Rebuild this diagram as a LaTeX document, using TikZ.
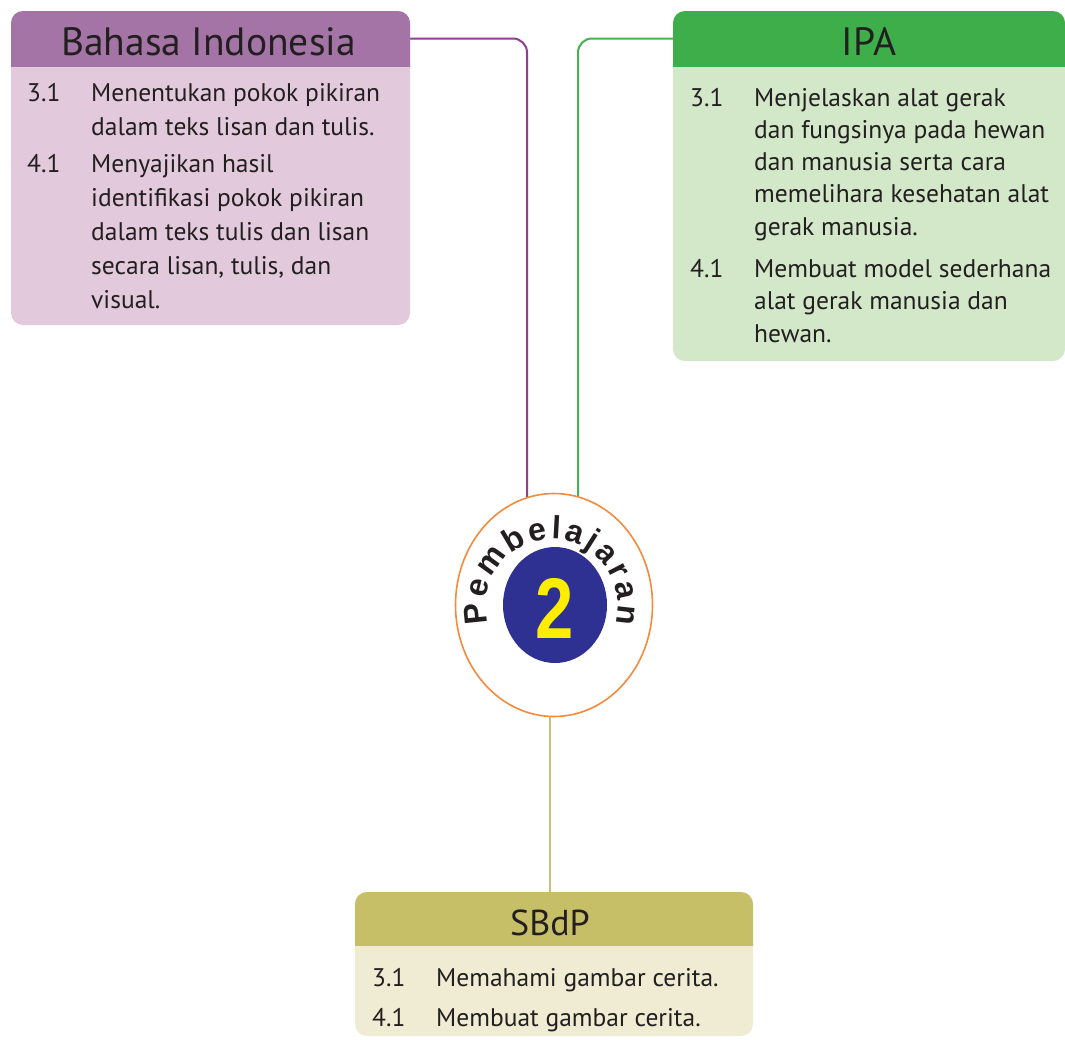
\documentclass[tikz,border=0pt]{standalone}
\usepackage{fontspec}
\usepackage{graphicx}
\setmainfont{PT Sans}
\newfontfamily\badgefont{Liberation Sans}
\usetikzlibrary{shapes.geometric,decorations.text,calc,backgrounds}

\definecolor{ink}{HTML}{231F20}
\definecolor{bhHead}{HTML}{A474A6}
\definecolor{bhBody}{HTML}{E3C9DC}
\definecolor{bhLine}{HTML}{8E3F91}
\definecolor{ipaHead}{HTML}{3DAE4A}
\definecolor{ipaBody}{HTML}{D3E8C9}
\definecolor{ipaLine}{HTML}{45B153}
\definecolor{sbHead}{HTML}{C6BF68}
\definecolor{sbBody}{HTML}{EFECD3}
\definecolor{sbLine}{HTML}{C8C07A}
\definecolor{ringOrange}{HTML}{F58A3B}
\definecolor{numBlue}{HTML}{2E3192}
\definecolor{numYellow}{HTML}{FFED00}

% one numbered competence: number column, then the wrapped text
\newcommand\comprow[2]{\makebox[64pt][l]{#1}\parbox[t]{330pt}{\raggedright #2}}

\tikzset{
  hdrbox/.style={rectangle, inner sep=0pt, minimum height=55pt},
  titletext/.style={anchor=base, inner sep=0pt, text=ink, font=\fontsize{39.5}{42}\selectfont},
  compitem/.style={anchor=base west, inner sep=0pt, text=ink},
  linkline/.style={line width=2pt, rounded corners=14pt},
}

\begin{document}
\begin{tikzpicture}[x=1pt,y=1pt]
\useasboundingbox (0,0) rectangle (1065,-1039);

% ---- Bahasa Indonesia panel
\fill[bhBody, rounded corners=12pt] (11,-11) rectangle (410,-325);
\begin{scope}
  \clip (0,-11) rectangle (420,-66);
  \fill[bhHead, rounded corners=12pt] (11,-11) rectangle (410,-325);
\end{scope}
\node[hdrbox, minimum width=399pt] (bhead) at (210.5,-38.5) {};
\node[titletext] (btitle) at (208.5,-55) {Bahasa Indonesia};
\node[compitem, font=\fontsize{25.5}{34}\selectfont] (b31) at (27,-101)
  {\comprow{3.1}{Menentukan pokok pikiran\\dalam teks lisan dan tulis.}};
\node[compitem, font=\fontsize{25.5}{34}\selectfont] (b41) at (27,-172)
  {\comprow{4.1}{Menyajikan hasil\\identifikasi pokok pikiran\\dalam teks tulis dan lisan\\secara lisan, tulis, dan\\visual.}};

% ---- IPA panel
\fill[ipaBody, rounded corners=12pt] (673,-11) rectangle (1065,-361);
\begin{scope}
  \clip (660,-11) rectangle (1070,-66);
  \fill[ipaHead, rounded corners=12pt] (673,-11) rectangle (1065,-361);
\end{scope}
\node[hdrbox, minimum width=392pt] (ihead) at (869,-38.5) {};
\node[titletext] (ititle) at (869,-55) {IPA};
\node[compitem, font=\fontsize{25.5}{32.3}\selectfont] (i31) at (690,-106)
  {\comprow{3.1}{Menjelaskan alat gerak\\dan fungsinya pada hewan\\dan manusia serta cara\\memelihara kesehatan alat\\gerak manusia.}};
\node[compitem, font=\fontsize{25.5}{32.5}\selectfont] (i41) at (690,-277)
  {\comprow{4.1}{Membuat model sederhana\\alat gerak manusia dan\\hewan.}};

% ---- SBdP panel
\fill[sbBody, rounded corners=12pt] (355,-892) rectangle (753,-1036);
\begin{scope}
  \clip (340,-892) rectangle (770,-945);
  \fill[sbHead, rounded corners=12pt] (355,-892) rectangle (753,-1036);
\end{scope}
\node[hdrbox, minimum width=398pt, minimum height=53pt] (sbhead) at (554,-918.5) {};
\node[titletext, font=\fontsize{36}{40}\selectfont] (sbtitle) at (550,-935) {SBdP};
\node[compitem, font=\fontsize{25.5}{32}\selectfont] (s31) at (372,-986)
  {\comprow{3.1}{Memahami gambar cerita.}};
\node[compitem, font=\fontsize{25.5}{32}\selectfont] (s41) at (372,-1026)
  {\comprow{4.1}{Membuat gambar cerita.}};

% ---- central badge
\node[ellipse, draw=ringOrange, line width=1.6pt, fill=white, inner sep=0pt,
      minimum width=197pt, minimum height=223pt] (pc) at (554,-605) {};
\node[ellipse, fill=numBlue, inner sep=0pt,
      minimum width=104pt, minimum height=116pt] (pn) at (555,-605) {};
\node[text=numYellow, inner sep=0pt, font=\badgefont\bfseries\fontsize{86}{86}\selectfont]
      (pnum) at (555,-608) {\scalebox{0.8}[1]{2}};
\path[decorate, decoration={text along path,
      text={|\badgefont\bfseries\fontsize{32}{32}\selectfont\color{ink}|Pembelajaran},
      text align={fit to path}}]
  (552,-606) ++(195:66 and 67) arc[start angle=195, end angle=-15, x radius=66, y radius=67];

% ---- connectors from the panels to the badge
\begin{scope}[on background layer]
  \draw[linkline, bhLine] (bhead.east) -| ($(pc.center)+(-27,0)$);
  \draw[linkline, ipaLine] (ihead.west) -| ($(pc.center)+(24,0)$);
  \draw[line width=2pt, sbLine] ($(pc.center)+(-4.5,0)$) -- ($(sbhead.north)+(-4.5,0)$);
\end{scope}
\end{tikzpicture}
\end{document}
